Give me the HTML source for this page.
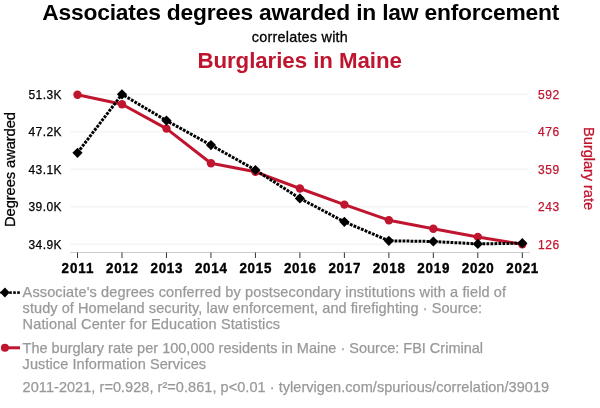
<!DOCTYPE html>
<html><head><meta charset="utf-8">
<style>
html,body{margin:0;padding:0;background:#fff;width:600px;height:408px;overflow:hidden;}
body{font-family:"Liberation Sans",sans-serif;}
svg{position:absolute;left:0;top:0;display:block;will-change:transform;}
text{font-family:"Liberation Sans",sans-serif;}
</style></head>
<body>
<svg width="600" height="408" viewBox="0 0 600 408">
<text x="42.3" y="20" font-size="22.8" font-weight="bold" fill="#000" text-anchor="start" textLength="517" lengthAdjust="spacing">Associates degrees awarded in law enforcement</text>
<text x="251.8" y="41.5" font-size="14.4" font-weight="normal" fill="#000" text-anchor="start" textLength="96" lengthAdjust="spacing" stroke="#000" stroke-width="0.3">correlates with</text>
<text x="197.4" y="67.8" font-size="22.3" font-weight="bold" fill="#c0152f" text-anchor="start" textLength="204.5" lengthAdjust="spacing">Burglaries in Maine</text>
<text x="22.6" y="296.5" font-size="14.5" font-weight="normal" fill="#999999" text-anchor="start" textLength="483.5" lengthAdjust="spacing" stroke="#999999" stroke-width="0.25">Associate's degrees conferred by postsecondary institutions with a field of</text>
<text x="22.6" y="312.5" font-size="14.5" font-weight="normal" fill="#999999" text-anchor="start" textLength="459.5" lengthAdjust="spacing" stroke="#999999" stroke-width="0.25">study of Homeland security, law enforcement, and firefighting · Source:</text>
<text x="22.6" y="328.5" font-size="14.5" font-weight="normal" fill="#999999" text-anchor="start" textLength="257.5" lengthAdjust="spacing" stroke="#999999" stroke-width="0.25">National Center for Education Statistics</text>
<text x="22.6" y="352.5" font-size="14.5" font-weight="normal" fill="#999999" text-anchor="start" textLength="460.5" lengthAdjust="spacing" stroke="#999999" stroke-width="0.25">The burglary rate per 100,000 residents in Maine · Source: FBI Criminal</text>
<text x="22.6" y="368.5" font-size="14.5" font-weight="normal" fill="#999999" text-anchor="start" textLength="183.5" lengthAdjust="spacing" stroke="#999999" stroke-width="0.25">Justice Information Services</text>
<text x="22.6" y="392" font-size="14.5" font-weight="normal" fill="#999999" text-anchor="start" textLength="526.5" lengthAdjust="spacing" stroke="#999999" stroke-width="0.25">2011-2021, r=0.928, r²=0.861, p&lt;0.01 · tylervigen.com/spurious/correlation/39019</text>
<g stroke="#f6f6f6" stroke-width="2"><line x1="70.5" x2="528" y1="94.2" y2="94.2"/><line x1="70.5" x2="528" y1="131.7" y2="131.7"/><line x1="70.5" x2="528" y1="169.2" y2="169.2"/><line x1="70.5" x2="528" y1="206.7" y2="206.7"/><line x1="70.5" x2="528" y1="244.2" y2="244.2"/></g>
<text x="61.5" y="98.8" font-size="12" font-weight="normal" fill="#000" text-anchor="end" textLength="33" lengthAdjust="spacing" stroke="#000" stroke-width="0.25">51.3K</text>
<text x="538.1" y="98.8" font-size="12" font-weight="normal" fill="#c0152f" text-anchor="start" textLength="21" lengthAdjust="spacing" stroke="#c0152f" stroke-width="0.25">592</text>
<text x="61.5" y="136.3" font-size="12" font-weight="normal" fill="#000" text-anchor="end" textLength="33" lengthAdjust="spacing" stroke="#000" stroke-width="0.25">47.2K</text>
<text x="538.1" y="136.3" font-size="12" font-weight="normal" fill="#c0152f" text-anchor="start" textLength="21" lengthAdjust="spacing" stroke="#c0152f" stroke-width="0.25">476</text>
<text x="61.5" y="173.8" font-size="12" font-weight="normal" fill="#000" text-anchor="end" textLength="33" lengthAdjust="spacing" stroke="#000" stroke-width="0.25">43.1K</text>
<text x="538.1" y="173.8" font-size="12" font-weight="normal" fill="#c0152f" text-anchor="start" textLength="21" lengthAdjust="spacing" stroke="#c0152f" stroke-width="0.25">359</text>
<text x="61.5" y="211.3" font-size="12" font-weight="normal" fill="#000" text-anchor="end" textLength="33" lengthAdjust="spacing" stroke="#000" stroke-width="0.25">39.0K</text>
<text x="538.1" y="211.3" font-size="12" font-weight="normal" fill="#c0152f" text-anchor="start" textLength="21" lengthAdjust="spacing" stroke="#c0152f" stroke-width="0.25">243</text>
<text x="61.5" y="248.8" font-size="12" font-weight="normal" fill="#000" text-anchor="end" textLength="33" lengthAdjust="spacing" stroke="#000" stroke-width="0.25">34.9K</text>
<text x="538.1" y="248.8" font-size="12" font-weight="normal" fill="#c0152f" text-anchor="start" textLength="21" lengthAdjust="spacing" stroke="#c0152f" stroke-width="0.25">126</text>
<text transform="translate(15.3,169.5) rotate(-90)" text-anchor="middle" font-size="14.7" fill="#000" textLength="115" lengthAdjust="spacing" stroke="#000" stroke-width="0.3">Degrees awarded</text>
<text transform="translate(584.2,168.6) rotate(90)" text-anchor="middle" font-size="14.7" fill="#c0152f" textLength="83" lengthAdjust="spacing" stroke="#c0152f" stroke-width="0.3">Burglary rate</text>
<line x1="70" x2="530" y1="252.5" y2="252.5" stroke="#cccccc" stroke-width="1"/>
<line x1="77.5" x2="77.5" y1="252.5" y2="258.0" stroke="#333333" stroke-width="1"/>
<text transform="translate(77.50,272.7) scale(1,1.15)" font-size="13.4" font-weight="bold" text-anchor="middle" fill="#000" stroke="#000" stroke-width="0.35" textLength="32" lengthAdjust="spacing">2011</text><line x1="121.97999999999999" x2="121.97999999999999" y1="252.5" y2="258.0" stroke="#333333" stroke-width="1"/>
<text transform="translate(121.98,272.7) scale(1,1.15)" font-size="13.4" font-weight="bold" text-anchor="middle" fill="#000" stroke="#000" stroke-width="0.35" textLength="32" lengthAdjust="spacing">2012</text><line x1="166.45999999999998" x2="166.45999999999998" y1="252.5" y2="258.0" stroke="#333333" stroke-width="1"/>
<text transform="translate(166.46,272.7) scale(1,1.15)" font-size="13.4" font-weight="bold" text-anchor="middle" fill="#000" stroke="#000" stroke-width="0.35" textLength="32" lengthAdjust="spacing">2013</text><line x1="210.94" x2="210.94" y1="252.5" y2="258.0" stroke="#333333" stroke-width="1"/>
<text transform="translate(210.94,272.7) scale(1,1.15)" font-size="13.4" font-weight="bold" text-anchor="middle" fill="#000" stroke="#000" stroke-width="0.35" textLength="32" lengthAdjust="spacing">2014</text><line x1="255.42" x2="255.42" y1="252.5" y2="258.0" stroke="#333333" stroke-width="1"/>
<text transform="translate(255.42,272.7) scale(1,1.15)" font-size="13.4" font-weight="bold" text-anchor="middle" fill="#000" stroke="#000" stroke-width="0.35" textLength="32" lengthAdjust="spacing">2015</text><line x1="299.9" x2="299.9" y1="252.5" y2="258.0" stroke="#333333" stroke-width="1"/>
<text transform="translate(299.90,272.7) scale(1,1.15)" font-size="13.4" font-weight="bold" text-anchor="middle" fill="#000" stroke="#000" stroke-width="0.35" textLength="32" lengthAdjust="spacing">2016</text><line x1="344.38" x2="344.38" y1="252.5" y2="258.0" stroke="#333333" stroke-width="1"/>
<text transform="translate(344.38,272.7) scale(1,1.15)" font-size="13.4" font-weight="bold" text-anchor="middle" fill="#000" stroke="#000" stroke-width="0.35" textLength="32" lengthAdjust="spacing">2017</text><line x1="388.85999999999996" x2="388.85999999999996" y1="252.5" y2="258.0" stroke="#333333" stroke-width="1"/>
<text transform="translate(388.86,272.7) scale(1,1.15)" font-size="13.4" font-weight="bold" text-anchor="middle" fill="#000" stroke="#000" stroke-width="0.35" textLength="32" lengthAdjust="spacing">2018</text><line x1="433.34" x2="433.34" y1="252.5" y2="258.0" stroke="#333333" stroke-width="1"/>
<text transform="translate(433.34,272.7) scale(1,1.15)" font-size="13.4" font-weight="bold" text-anchor="middle" fill="#000" stroke="#000" stroke-width="0.35" textLength="32" lengthAdjust="spacing">2019</text><line x1="477.82" x2="477.82" y1="252.5" y2="258.0" stroke="#333333" stroke-width="1"/>
<text transform="translate(477.82,272.7) scale(1,1.15)" font-size="13.4" font-weight="bold" text-anchor="middle" fill="#000" stroke="#000" stroke-width="0.35" textLength="32" lengthAdjust="spacing">2020</text><line x1="522.3" x2="522.3" y1="252.5" y2="258.0" stroke="#333333" stroke-width="1"/>
<text transform="translate(522.30,272.7) scale(1,1.15)" font-size="13.4" font-weight="bold" text-anchor="middle" fill="#000" stroke="#000" stroke-width="0.35" textLength="32" lengthAdjust="spacing">2021</text><polyline fill="none" stroke="#c0152f" stroke-width="3" stroke-linejoin="round" points="77.50,94.8 121.98,104.3 166.46,128.6 210.94,163.3 255.42,171.8 299.90,188.5 344.38,204.6 388.86,220.2 433.34,228.7 477.82,236.9 522.30,244.3"/>
<polyline fill="none" stroke="#000" stroke-width="3" stroke-dasharray="2.8,1.2" points="77.50,152.8 121.98,94.3 166.46,120.6 210.94,145.1 255.42,170.0 299.90,198.4 344.38,221.8 388.86,240.8 433.34,241.5 477.82,243.9 522.30,243.2"/>
<circle cx="77.50" cy="94.8" r="4.2" fill="#c0152f"/><circle cx="121.98" cy="104.3" r="4.2" fill="#c0152f"/><circle cx="166.46" cy="128.6" r="4.2" fill="#c0152f"/><circle cx="210.94" cy="163.3" r="4.2" fill="#c0152f"/><circle cx="255.42" cy="171.8" r="4.2" fill="#c0152f"/><circle cx="299.90" cy="188.5" r="4.2" fill="#c0152f"/><circle cx="344.38" cy="204.6" r="4.2" fill="#c0152f"/><circle cx="388.86" cy="220.2" r="4.2" fill="#c0152f"/><circle cx="433.34" cy="228.7" r="4.2" fill="#c0152f"/><circle cx="477.82" cy="236.9" r="4.2" fill="#c0152f"/><circle cx="522.30" cy="244.3" r="4.2" fill="#c0152f"/>
<path d="M77.50 147.70000000000002L82.60 152.8L77.50 157.9L72.40 152.8Z" fill="#000"/><path d="M121.98 89.2L127.08 94.3L121.98 99.39999999999999L116.88 94.3Z" fill="#000"/><path d="M166.46 115.5L171.56 120.6L166.46 125.69999999999999L161.36 120.6Z" fill="#000"/><path d="M210.94 140.0L216.04 145.1L210.94 150.2L205.84 145.1Z" fill="#000"/><path d="M255.42 164.9L260.52 170.0L255.42 175.1L250.32 170.0Z" fill="#000"/><path d="M299.90 193.3L305.00 198.4L299.90 203.5L294.80 198.4Z" fill="#000"/><path d="M344.38 216.70000000000002L349.48 221.8L344.38 226.9L339.28 221.8Z" fill="#000"/><path d="M388.86 235.70000000000002L393.96 240.8L388.86 245.9L383.76 240.8Z" fill="#000"/><path d="M433.34 236.4L438.44 241.5L433.34 246.6L428.24 241.5Z" fill="#000"/><path d="M477.82 238.8L482.92 243.9L477.82 249.0L472.72 243.9Z" fill="#000"/><path d="M522.30 238.1L527.40 243.2L522.30 248.29999999999998L517.20 243.2Z" fill="#000"/>
<g fill="#000"><rect x="0" y="291.8" width="1.2" height="1.6"/><rect x="9.2" y="291.3" width="2.6" height="2.6"/><rect x="13.2" y="291.3" width="2.6" height="2.6"/><rect x="17.2" y="291.3" width="2.6" height="2.6"/></g>
<path d="M4.9 287.6L9.7 292.6L4.9 297.6L0.10000000000000053 292.6Z" fill="#000"/>
<line x1="4.9" x2="20" y1="347.8" y2="347.8" stroke="#c0152f" stroke-width="3"/>
<circle cx="4.9" cy="347.8" r="4" fill="#c0152f"/>
</svg>
</body></html>
